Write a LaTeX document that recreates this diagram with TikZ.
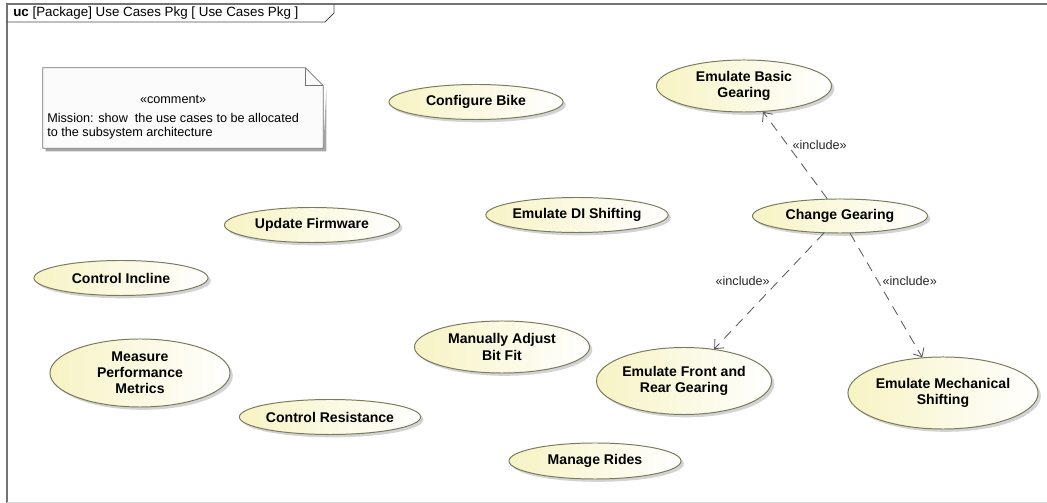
\documentclass[tikz,border=0pt]{standalone}
\usepackage{fontspec}
\setmainfont{Liberation Sans}
\usepackage{tikz}
\usetikzlibrary{shapes.geometric, arrows.meta, shadows, positioning, calc}
\usepackage{xcolor}
\definecolor{ucfill}{RGB}{247,243,196}
\definecolor{ucedge}{RGB}{122,122,92}
\definecolor{notefill}{RGB}{251,251,251}
\tikzstyle{usecase} = [ellipse, draw = ucedge, left color = ucfill, right color = white, line width = 0.7pt, minimum width = 4.375cm, minimum height = 0.875cm, inner sep = 0pt, align = center, font = \bfseries\fontsize{10}{11.5}\selectfont, drop shadow = {shadow xshift = 2pt, shadow yshift = -2pt, opacity = 0.35}]
\tikzstyle{incl} = [draw = black!65, line width = 0.6pt, dash pattern = on 7pt off 5pt, -{Straight Barb[length = 5pt, width = 9pt]}]
\tikzstyle{stereo} = [font = \fontsize{9}{10}\selectfont, text = black!85]

\begin{document}
\begin{tikzpicture}[x = 0.025cm, y = -0.025cm]
\useasboundingbox (0,0) rectangle (1047,503);
% frame of the diagram and its tab
\draw[black!55, line width = 1pt] (7,510) -- (7,4) -- (1060,4);
\draw[black!15, line width = 0.6pt] (7,502) -- (1060,502);
\draw[black!70, line width = 0.6pt] (7,22) -- (325,22) -- (334,13) -- (334,4);
\node (title) [anchor = west, font = \fontsize{9.5}{10}\selectfont, inner sep = 0pt] at (13,13) {\textbf{uc} [Package] Use Cases Pkg [ Use Cases Pkg ]};

% comment note
\node (note) [minimum width = 7cm, minimum height = 2cm, draw = none] at (183,108) {};
\fill[black!35] ($(note.north east)+(3,21)$) -- ($(note.south east)+(3,3)$) -- ($(note.south west)+(3,3)$) -- ($(note.south west)+(3,0)$) -- ($(note.south east)+(0,0)$) -- cycle;
\draw[black!55, fill = notefill, line width = 0.6pt] (note.south west) -- (note.north west) -- ($(note.north east)+(-18,0)$) -- ($(note.north east)+(0,18)$) -- (note.south east) -- cycle;
\draw[black!55, line width = 0.6pt] ($(note.north east)+(-18,0)$) |- ($(note.north east)+(0,18)$);
\node (notetext) [anchor = north west, inner sep = 0pt, font = \fontsize{9}{10}\selectfont] at (47,93) {\begin{tabular}{@{}l@{}}\multicolumn{1}{@{}c@{}}{«comment»}\\[4pt] Mission: show\ \ the use cases to be allocated\\ to the subsystem architecture\end{tabular}};

% use cases
\node (conf) [usecase, minimum width = 4.35cm] at (476,102) {Configure Bike};
\node (basic) [usecase, minimum height = 1.3cm] at (744,86) {Emulate Basic\\Gearing};
\node (firm) [usecase] at (312,225) {Update Firmware};
\node (dish) [usecase, minimum width = 4.2cm] at (577,215) {Emulate DI Shifting};
\node (change) [usecase, minimum height = 0.85cm] at (840,216) {Change Gearing};
\node (incline) [usecase, minimum width = 4.35cm] at (121,278) {Control Incline};
\node (measure) [usecase, minimum width = 4.5cm, minimum height = 1.7cm] at (140,373) {Measure\\Performance\\Metrics};
\node (bitfit) [usecase, minimum height = 1.3cm] at (502,347) {Manually Adjust\\Bit Fit};
\node (frontrear) [usecase, minimum height = 1.675cm] at (684,381) {Emulate Front and\\Rear Gearing};
\node (mech) [usecase, minimum height = 1.8cm] at (943,393) {Emulate Mechanical\\Shifting};
\node (resist) [usecase, minimum width = 4.35cm] at (330,417) {Control Resistance};
\node (rides) [usecase, minimum width = 4.3cm, minimum height = 0.9cm] at (595,461) {Manage Rides};

% include relations
\draw[incl] (change) -- node (lblbasic) [stereo, pos = 0.62, right] {«include»} (basic);
\draw[incl] (change) -- node (lblfront) [stereo, pos = 0.41, left, xshift = -1mm] {«include»} (frontrear);
\draw[incl] (change) -- node (lblmech) [stereo, pos = 0.38, right] {«include»} (mech);
\end{tikzpicture}
\end{document}
